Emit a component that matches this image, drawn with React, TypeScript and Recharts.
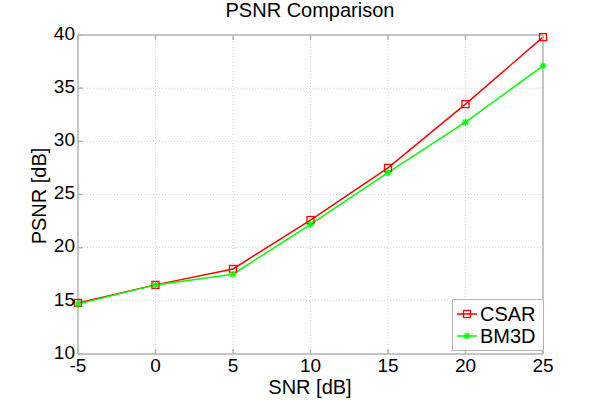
import { LineChart, Line, XAxis, YAxis, CartesianGrid } from 'recharts';

const snr = [-5, 0, 5, 10, 15, 20, 25];
const csar = [14.8, 16.5, 18.0, 22.6, 27.5, 33.5, 39.8];
const bm3d = [14.7, 16.5, 17.5, 22.2, 27.05, 31.8, 37.1];
const xTicks = [-5, 0, 5, 10, 15, 20, 25];
const yTicks = [10, 15, 20, 25, 30, 35, 40];

const data = snr.map((s, i) => ({ snr: s, csar: csar[i], bm3d: bm3d[i] }));

const FONT = '"Liberation Sans", Arial, sans-serif';
const AXIS = '#b4b4b4';
const RED = '#ff0000';
const GREEN = '#00ff00';

const Square = (props: any) => {
  const { cx, cy } = props;
  if (cx == null || cy == null) return null;
  return <rect x={cx - 3.5} y={cy - 3.5} width={7} height={7} fill="none" stroke={RED} strokeWidth={1.3} />;
};

const Star = (props: any) => {
  const { cx, cy } = props;
  if (cx == null || cy == null) return null;
  const r = 3.5;
  const d = r * 0.707;
  return (
    <g stroke={GREEN} strokeWidth={1.3}>
      <line x1={cx - r} y1={cy} x2={cx + r} y2={cy} />
      <line x1={cx} y1={cy - r} x2={cx} y2={cy + r} />
      <line x1={cx - d} y1={cy - d} x2={cx + d} y2={cy + d} />
      <line x1={cx - d} y1={cy + d} x2={cx + d} y2={cy - d} />
    </g>
  );
};

const LegendBox = () => (
  <svg width={92} height={52} style={{ display: 'block' }}>
    <rect x={0.5} y={0.5} width={91} height={51} fill="#fff" stroke={AXIS} />
    <line x1={5} y1={15} x2={25} y2={15} stroke={RED} strokeWidth={1.5} />
    <Square cx={15} cy={15} />
    <text x={28} y={22} fontSize={20} fontFamily={FONT} fill="#000">CSAR</text>
    <line x1={5} y1={37} x2={25} y2={37} stroke={GREEN} strokeWidth={1.5} />
    <Star cx={15} cy={37} />
    <text x={28} y={44} fontSize={20} fontFamily={FONT} fill="#000">BM3D</text>
  </svg>
);

const tickStyle = { fill: '#000', fontSize: 19, fontFamily: FONT };

export default function App() {
  return (
    <div style={{ position: 'absolute', left: 0, top: 0, width: 600, height: 400, background: '#fff', fontFamily: FONT }}>
      <LineChart width={600} height={400} data={data} margin={{ top: 34, right: 56, bottom: 45, left: 77 }}>
        <CartesianGrid stroke="#d4d4d4" strokeDasharray="1 2" />
        <XAxis
          dataKey="snr"
          type="number"
          domain={[-5, 25]}
          ticks={xTicks}
          height={1}
          stroke={AXIS}
          strokeWidth={1.5}
          tickSize={-5}
          tickMargin={10}
          tick={tickStyle}
        />
        <XAxis
          xAxisId="top"
          orientation="top"
          dataKey="snr"
          type="number"
          domain={[-5, 25]}
          ticks={xTicks}
          height={1}
          stroke={AXIS}
          strokeWidth={1.5}
          tickSize={-5}
          tickFormatter={() => ''}
        />
        <YAxis
          type="number"
          domain={[10, 40]}
          ticks={yTicks}
          width={1}
          stroke={AXIS}
          strokeWidth={1.5}
          tickSize={-5}
          tickMargin={8}
          tick={{ ...tickStyle, dy: -2 }}
        />
        <YAxis
          yAxisId="right"
          orientation="right"
          type="number"
          domain={[10, 40]}
          ticks={yTicks}
          width={1}
          stroke={AXIS}
          strokeWidth={1.5}
          tickSize={-5}
          tickFormatter={() => ''}
        />
        <Line dataKey="csar" stroke={RED} strokeWidth={1.5} dot={<Square />} isAnimationActive={false} />
        <Line dataKey="bm3d" stroke={GREEN} strokeWidth={1.5} dot={<Star />} isAnimationActive={false} />
      </LineChart>
      <div style={{ position: 'absolute', left: 0, top: -1, width: 620, textAlign: 'center', fontSize: 20, color: '#000' }}>
        PSNR Comparison
      </div>
      <div
        style={{
          position: 'absolute',
          left: 0,
          top: 380,
          width: 620,
          textAlign: 'center',
          fontSize: 20,
          lineHeight: '14px',
          color: '#000',
        }}
      >
        SNR [dB]
      </div>
      <div
        style={{
          position: 'absolute',
          left: 39,
          top: 196,
          fontSize: 20,
          color: '#000',
          transform: 'translate(-50%, -50%) rotate(-90deg)',
          whiteSpace: 'nowrap',
        }}
      >
        PSNR [dB]
      </div>
      <div style={{ position: 'absolute', left: 452, top: 299 }}>
        <LegendBox />
      </div>
    </div>
  );
}
